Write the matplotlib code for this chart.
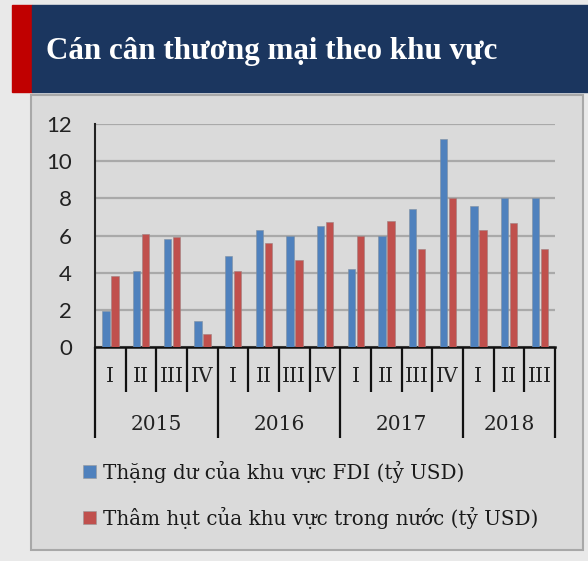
import matplotlib
matplotlib.use("Agg")
import matplotlib.pyplot as plt
from matplotlib.patches import Rectangle
from matplotlib.transforms import blended_transform_factory

years = ["2015", "2016", "2017", "2018"]
quarters = ["I", "II", "III", "IV", "I", "II", "III", "IV", "I", "II", "III", "IV", "I", "II", "III"]
year_sizes = [4, 4, 4, 3]
fdi_surplus = [1.95, 4.1, 5.8, 1.4, 4.9, 6.3, 6.0, 6.5, 4.2, 6.0, 7.4, 11.2, 7.6, 8.0, 8.0]
domestic_deficit = [3.8, 6.1, 5.9, 0.7, 4.1, 5.6, 4.7, 6.7, 6.0, 6.8, 5.25, 8.0, 6.3, 6.65, 5.3]
title = "Cán cân thương mại theo khu vực"
legend_labels = ["Thặng dư của khu vực FDI (tỷ USD)", "Thâm hụt của khu vực trong nước (tỷ USD)"]
yticks = [0, 2, 4, 6, 8, 10, 12]

W, H = 588, 561
fig = plt.figure(figsize=(W / 100, H / 100), dpi=100, facecolor="#e9e9e9")

def fx(px):
    return px / W

def fy(py):
    return 1 - py / H

# header
fig.patches.append(Rectangle((fx(12), fy(92)), fx(32) - fx(12), fy(5) - fy(92),
                             transform=fig.transFigure, color="#c00000", zorder=0))
fig.patches.append(Rectangle((fx(32), fy(92)), 1 - fx(32), fy(5) - fy(92),
                             transform=fig.transFigure, color="#1b365f", zorder=0))
fig.text(fx(46), fy(51), title, color="white", fontsize=22.3, fontweight="bold",
         family="Liberation Serif", va="center", ha="left")

# panel
fig.patches.append(Rectangle((fx(31), fy(550)), fx(583) - fx(31), fy(95) - fy(550),
                             transform=fig.transFigure, facecolor="#dadada",
                             edgecolor="#a8a8a8", linewidth=1.5, zorder=-1))

ax = fig.add_axes([fx(95), fy(347), fx(555) - fx(95), fy(124) - fy(347)])
ax.set_zorder(5)
ax.set_facecolor("none")

n = len(quarters)
xs = list(range(n))
bw = 0.24
ax.bar([x - 0.145 for x in xs], fdi_surplus, width=bw, color="#4f81bd",
       edgecolor="#7f8fa0", linewidth=0.4, zorder=3, label=legend_labels[0])
ax.bar([x + 0.155 for x in xs], domestic_deficit, width=bw, color="#c0504d",
       edgecolor="#a08080", linewidth=0.4, zorder=3, label=legend_labels[1])

ax.set_xlim(-0.5, n - 0.5)
ax.set_ylim(0, 12)
ax.set_yticks(yticks)
ax.set_yticklabels([str(t) for t in yticks], family="Lato", fontsize=16, color="#222222")
ax.tick_params(axis="y", length=0, pad=16.5)
ax.set_xticks([])
ax.yaxis.grid(True, color="#a9a9a9", linewidth=1.6, zorder=1)
ax.set_axisbelow(True)
for s in ["top", "right"]:
    ax.spines[s].set_visible(False)
ax.spines["left"].set_color("#222222")
ax.spines["left"].set_linewidth(1.5)
ax.spines["bottom"].set_color("#111111")
ax.spines["bottom"].set_linewidth(1.8)

tr = blended_transform_factory(ax.transData, ax.transAxes)
ax_h = 223.0
q_bottom = -45 / ax_h
y_bottom = -91 / ax_h

# separators
year_bounds = [-0.5]
for s in year_sizes:
    year_bounds.append(year_bounds[-1] + s)
for i in range(n + 1):
    b = i - 0.5
    low = y_bottom if b in year_bounds else q_bottom
    ax.plot([b, b], [0, low], transform=tr, color="#111111", linewidth=1.6,
            clip_on=False, solid_capstyle="butt")

for i, q in enumerate(quarters):
    ax.text(i, -30 / ax_h, q, transform=tr, ha="center", va="center",
            family="DejaVu Serif", fontsize=14.5, color="#222222")
for k, yname in enumerate(years):
    c = (year_bounds[k] + year_bounds[k + 1]) / 2
    ax.text(c, -77 / ax_h, yname, transform=tr, ha="center", va="center",
            family="DejaVu Serif", fontsize=14.5, color="#222222")

# legend
cols = ["#4f81bd", "#c0504d"]
for j, (lab, col) in enumerate(zip(legend_labels, cols)):
    yc = [472, 518][j]
    fig.patches.append(Rectangle((fx(83), fy(yc + 6)), fx(13), 13 / H,
                                 transform=fig.transFigure, facecolor=col,
                                 edgecolor="#999999", linewidth=0.4))
    fig.text(fx(103), fy(yc), lab, family="DejaVu Serif", fontsize=14.3,
             color="#1a1a1a", va="center", ha="left")

fig.savefig("out.png", dpi=100, facecolor=fig.get_facecolor())
